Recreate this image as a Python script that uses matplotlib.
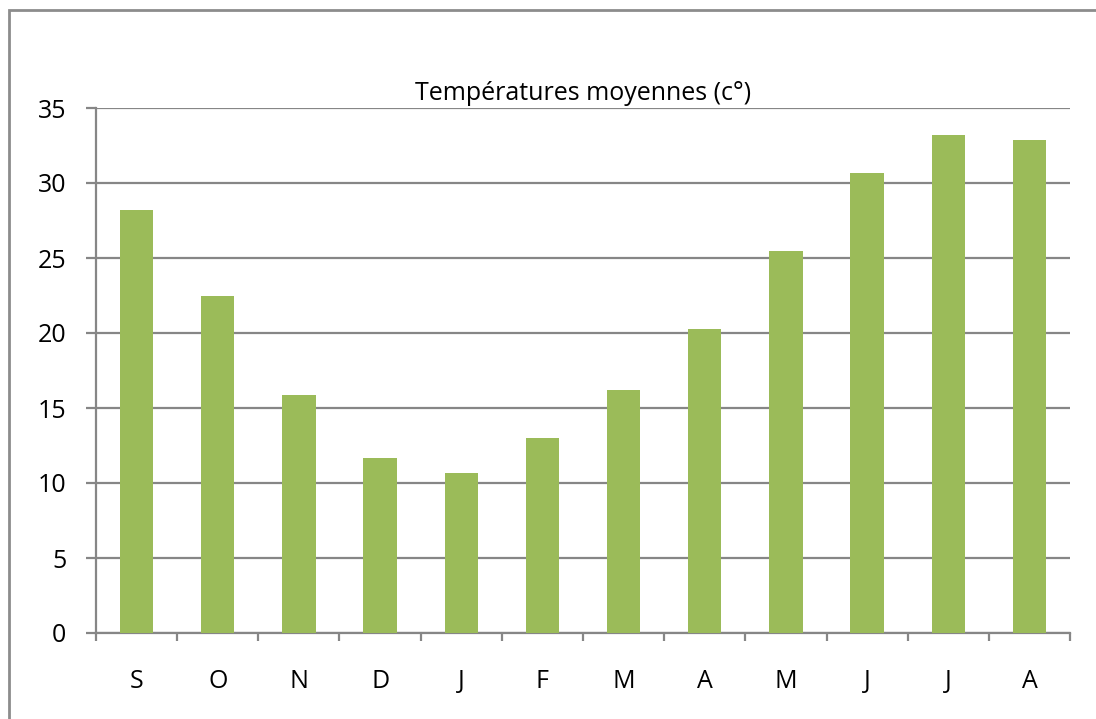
import numpy as np
import matplotlib.pyplot as plt
from matplotlib.patches import Rectangle

months = ["S", "O", "N", "D", "J", "F", "M", "A", "M", "J", "J", "A"]
temps = [28.2, 22.5, 15.9, 11.7, 10.7, 13.0, 16.2, 20.3, 25.5, 30.7, 33.2, 32.9]
yticks = [0, 5, 10, 15, 20, 25, 30, 35]

plt.rcParams["font.family"] = ["Open Sans", "DejaVu Sans"]
GRID = "#868686"
FS = 18

fig = plt.figure(figsize=(10.96, 7.19), dpi=100)
ax = fig.add_axes([96 / 1096, 86 / 719, 974 / 1096, 525 / 719])

x = np.arange(len(months))
ax.bar(x, temps, width=0.41, color="#9BBB59", zorder=3)

ax.set_xlim(-0.5, len(months) - 0.5)
ax.set_ylim(0, 35)
ax.set_yticks(yticks)
ax.set_yticklabels([str(v) for v in yticks])
ax.set_xticks(x)
ax.set_xticklabels(months)
ax.set_xticks(np.arange(len(months) + 1) - 0.5, minor=True)

ax.yaxis.grid(True, color=GRID, linewidth=1.6, zorder=0)
ax.tick_params(axis="y", length=7.5, width=1.6, color=GRID, pad=14, labelsize=FS)
ax.tick_params(axis="x", which="major", length=0, pad=26, labelsize=FS)
ax.tick_params(axis="x", which="minor", length=6, width=1.6, color=GRID)

for side in ["top", "right"]:
    ax.spines[side].set_visible(False)
for side in ["left", "bottom"]:
    ax.spines[side].set_color(GRID)
    ax.spines[side].set_linewidth(1.6)

ax.set_title("Températures moyennes (c°)", fontsize=FS, pad=6)

# chart frame, cut off on the right and bottom like the source image
fig.patches.append(Rectangle((9 / 1096, -0.1), 1.2, 1 - 10 / 719 + 0.1,
                             transform=fig.transFigure, fill=False,
                             edgecolor="#8c8c8c", linewidth=2))

fig.savefig("out.png", dpi=100)
